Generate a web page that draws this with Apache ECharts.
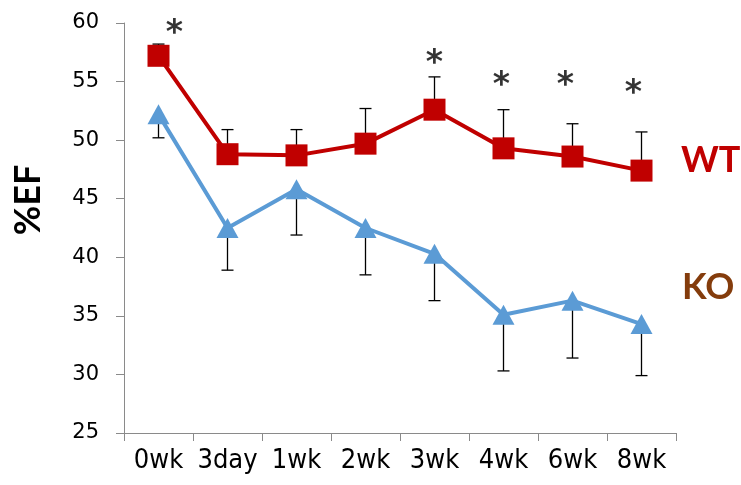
<!DOCTYPE html>
<html>
<head>
<meta charset="utf-8">
<script src="https://cdn.jsdelivr.net/npm/echarts@6/dist/echarts.min.js"></script>
<style>
  html, body { margin: 0; padding: 0; background: #fff; }
  #chart { width: 741px; height: 485px; }
</style>
</head>
<body>
<div id="chart"></div>
<script>
// Time points after treatment
var categories = ['0wk', '3day', '1wk', '2wk', '3wk', '4wk', '6wk', '8wk'];

// Ejection fraction (%EF) means
var wtValues = [57.2, 48.8, 48.7, 49.7, 52.6, 49.3, 48.6, 47.4];
var koValues = [52.2, 42.5, 45.8, 42.5, 40.3, 35.1, 36.3, 34.3];

// Error bar lengths (WT drawn upward, KO drawn downward)
var wtErr = [1.0, 2.1, 2.2, 3.0, 2.8, 3.3, 2.8, 3.3];
var koErr = [2.0, 3.6, 3.9, 4.0, 4.0, 4.8, 4.9, 4.4];

// Significance marks (* above points), value = height of the mark
var sigLevels = [59.0, null, null, null, 56.5, 54.6, 54.6, 53.9];
var sigShift = [16, 0, 0, 0, 0, -2, -7, -8];

var yTicks = { min: 25, max: 60, interval: 5 };

var chart = echarts.init(document.getElementById('chart'), null, { renderer: 'canvas' });

function errorData(means, errs, sign) {
  return means.map(function (m, i) {
    return [i, m, +(m + sign * errs[i]).toFixed(2)];
  });
}

function renderErrorBar(params, api) {
  var x = api.value(0);
  var p0 = api.coord([x, api.value(1)]);
  var p1 = api.coord([x, api.value(2)]);
  var half = 6;
  var style = { stroke: '#000', lineWidth: 1.3 };
  return {
    type: 'group',
    children: [
      { type: 'line', shape: { x1: p0[0], y1: p0[1], x2: p1[0], y2: p1[1] }, style: style },
      { type: 'line', shape: { x1: p1[0] - half, y1: p1[1], x2: p1[0] + half, y2: p1[1] }, style: style }
    ]
  };
}

var sigData = [];
sigLevels.forEach(function (v, i) {
  if (v !== null) {
    sigData.push({ value: [i, v], label: { offset: [sigShift[i], 0] } });
  }
});

var option = {
  animation: false,
  backgroundColor: '#fff',
  grid: { left: 124, top: 23, right: 65, bottom: 52, outerBoundsMode: 'none', containLabel: false },
  xAxis: {
    type: 'category',
    data: categories,
    boundaryGap: true,
    axisLine: { lineStyle: { color: '#8a8a8a', width: 1 } },
    axisTick: { show: true, length: 8, inside: false, lineStyle: { color: '#8a8a8a' } },
    axisLabel: {
      color: '#000',
      fontFamily: "'DejaVu Sans Condensed', 'DejaVu Sans', sans-serif",
      fontSize: 27,
      margin: 14,
      interval: 0
    },
    splitLine: { show: false }
  },
  yAxis: {
    type: 'value',
    min: yTicks.min,
    max: yTicks.max,
    interval: yTicks.interval,
    axisLine: { show: true, lineStyle: { color: '#8a8a8a', width: 1 } },
    axisTick: { show: true, length: 8, inside: false, lineStyle: { color: '#8a8a8a' } },
    axisLabel: {
      color: '#000',
      fontFamily: "'DejaVu Sans', sans-serif",
      fontSize: 21,
      margin: 25
    },
    splitLine: { show: false }
  },
  series: [
    {
      name: 'WT err',
      type: 'custom',
      renderItem: renderErrorBar,
      data: errorData(wtValues, wtErr, 1),
      z: 1,
      silent: true
    },
    {
      name: 'KO err',
      type: 'custom',
      renderItem: renderErrorBar,
      data: errorData(koValues, koErr, -1),
      z: 1,
      silent: true
    },
    {
      name: 'WT',
      type: 'line',
      data: wtValues,
      symbol: 'rect',
      symbolSize: 22,
      showSymbol: true,
      lineStyle: { color: '#C00000', width: 4 },
      itemStyle: { color: '#C00000' },
      z: 3
    },
    {
      name: 'KO',
      type: 'line',
      data: koValues,
      symbol: 'triangle',
      symbolSize: [22, 20],
      showSymbol: true,
      lineStyle: { color: '#5B9BD5', width: 4 },
      itemStyle: { color: '#5B9BD5' },
      z: 3
    },
    {
      name: 'significance',
      type: 'scatter',
      data: sigData,
      symbolSize: 1,
      itemStyle: { color: 'rgba(0,0,0,0)' },
      label: {
        show: true,
        position: 'inside',
        formatter: '*',
        color: '#000',
        fontFamily: "'DejaVu Sans', sans-serif",
        fontWeight: 'bold',
        fontSize: 33
      },
      z: 4,
      silent: true
    }
  ],
  graphic: [
    {
      type: 'text',
      x: 28,
      y: 200,
      rotation: Math.PI / 2,
      style: {
        text: '%EF',
        fill: '#000',
        font: "bold 36px 'Liberation Sans Narrow', Lato, sans-serif",
        align: 'center',
        verticalAlign: 'middle'
      }
    },
    {
      type: 'text',
      left: 681,
      top: 142,
      style: {
        text: 'WT',
        fill: '#C00000',
        font: "bold 36px Lato, 'Liberation Sans', sans-serif"
      }
    },
    {
      type: 'text',
      left: 682,
      top: 269,
      style: {
        text: 'KO',
        fill: '#843C0C',
        font: "bold 36px Lato, 'Liberation Sans', sans-serif"
      }
    }
  ]
};

chart.setOption(option);
</script>
</body>
</html>
